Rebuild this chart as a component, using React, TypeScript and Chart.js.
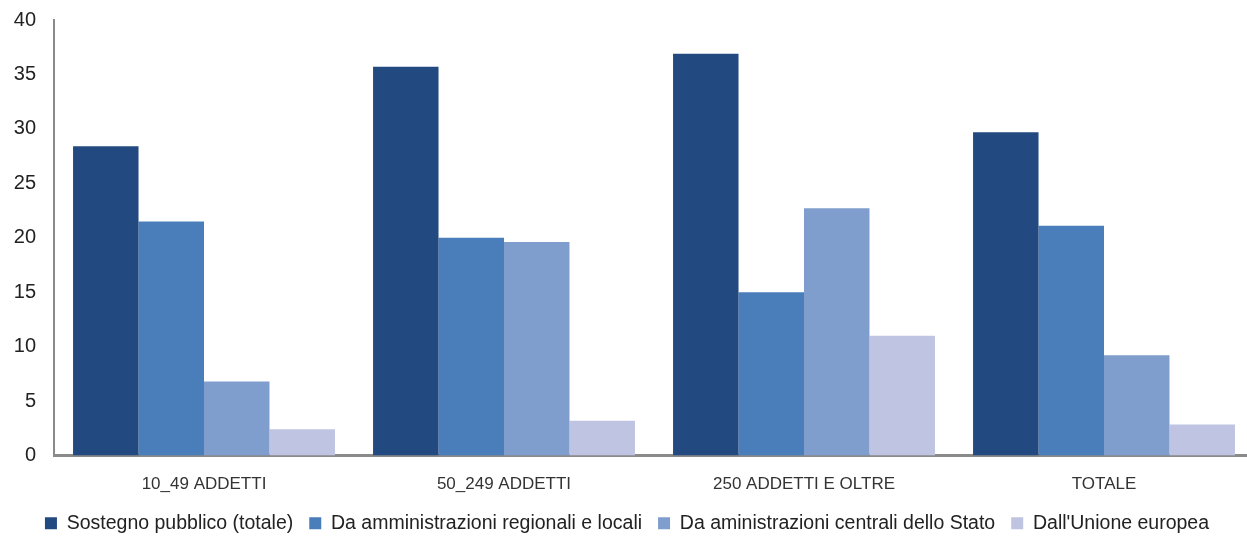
import React, { useEffect, useRef } from "react";
import { Chart, registerables } from "chart.js";

Chart.register(...registerables);

const categories = ["10_49 ADDETTI", "50_249 ADDETTI", "250 ADDETTI E OLTRE", "TOTALE"];
const sostegnoTotale = [28.4, 35.7, 36.9, 29.7];
const regionaliLocali = [21.5, 20.0, 15.0, 21.1];
const centraliStato = [6.8, 19.6, 22.7, 9.2];
const unioneEuropea = [2.4, 3.2, 11.0, 2.85];
const seriesLabels = [
  "Sostegno pubblico (totale)",
  "Da amministrazioni regionali e locali",
  "Da aministrazioni centrali dello Stato",
  "Dall'Unione europea",
];
const seriesColors = ["#234A80", "#4A7EBB", "#809ECD", "#BEC4E1"];
const yMin = 0;
const yMax = 40;
const yStep = 5;

export default function App() {
  const ref = useRef<HTMLCanvasElement | null>(null);

  useEffect(() => {
    if (!ref.current) return;
    const values = [sostegnoTotale, regionaliLocali, centraliStato, unioneEuropea];
    const chart = new Chart(ref.current, {
      type: "bar",
      data: {
        labels: categories,
        datasets: values.map((v, i) => ({
          label: seriesLabels[i],
          data: v,
          backgroundColor: seriesColors[i],
          borderWidth: 0,
          barPercentage: 1.0,
          categoryPercentage: 0.873,
        })),
      },
      options: {
        animation: false,
        responsive: false,
        layout: { padding: { top: 20, right: 8, left: 0, bottom: -4 } },
        plugins: {
          tooltip: { enabled: false },
          legend: {
            position: "bottom",
            labels: {
              boxWidth: 12,
              boxHeight: 12,
              padding: 16,
              color: "#222",
              font: { family: "Liberation Sans", size: 19.5 },
            },
          },
        },
        scales: {
          x: {
            grid: { display: false, drawTicks: false },
            border: { display: true, color: "#8a8a8a", width: 3 },
            ticks: {
              color: "#333",
              padding: 19,
              font: { family: "Liberation Sans", size: 17 },
              maxRotation: 0,
            },
            afterFit: (scale: any) => {
              scale.height = 42;
            },
          },
          y: {
            min: yMin,
            max: yMax,
            grid: { display: false, drawTicks: false },
            border: { display: true, color: "#8a8a8a", width: 2 },
            ticks: {
              stepSize: yStep,
              color: "#222",
              padding: 18,
              font: { family: "Liberation Sans", size: 20 },
            },
            afterFit: (scale: any) => {
              scale.width = 54;
              scale.paddingTop = 0;
              scale.paddingBottom = 0;
            },
          },
        },
      },
    });
    return () => chart.destroy();
  }, []);

  return (
    <div style={{ position: "fixed", left: 0, top: 0, width: 1247, height: 539, overflow: "hidden", background: "#fff" }}>
      <canvas ref={ref} width={1262} height={539} style={{ display: "block" }} />
    </div>
  );
}
